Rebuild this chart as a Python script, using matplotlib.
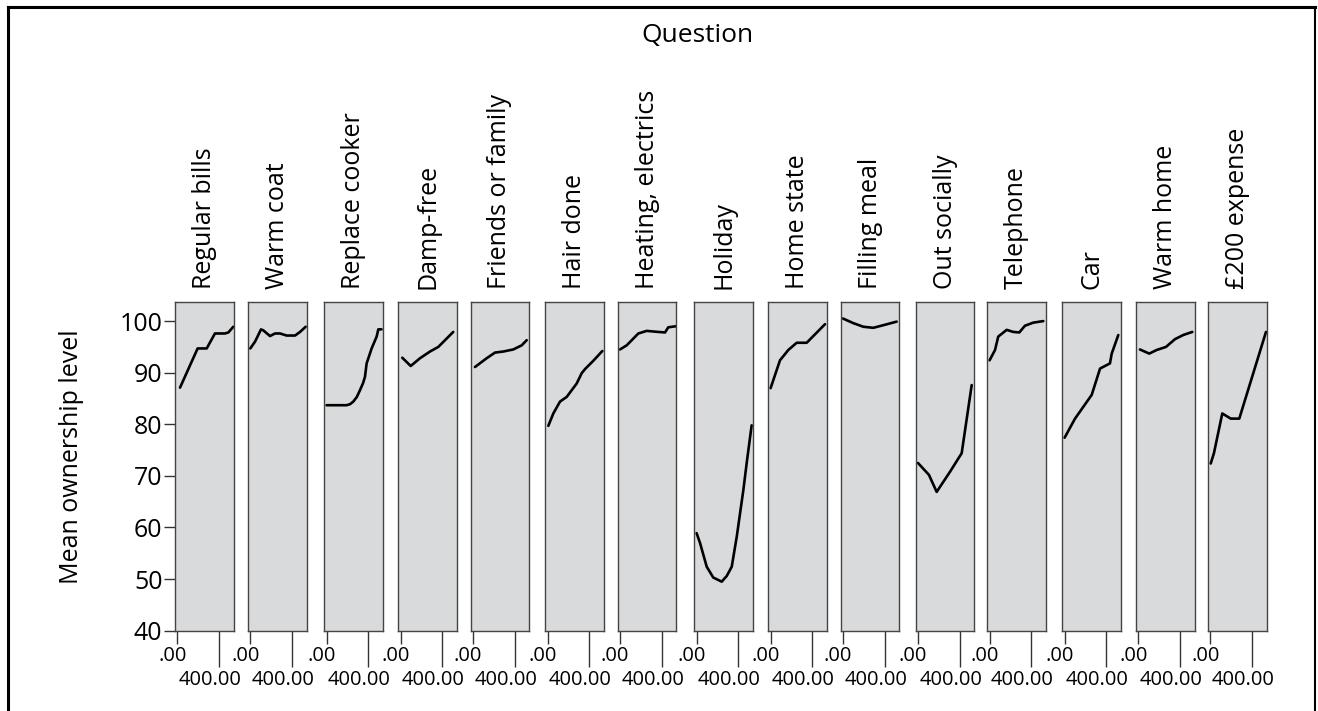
import matplotlib
matplotlib.use("Agg")
import matplotlib.pyplot as plt
import matplotlib.transforms as mtransforms
from matplotlib.lines import Line2D

plt.rcParams['font.family'] = ['Open Sans', 'DejaVu Sans']

# one panel per question
questions = ["Regular bills", "Warm coat", "Replace cooker", "Damp-free",
             "Friends or family", "Hair done", "Heating, electrics", "Holiday",
             "Home state", "Filling meal", "Out socially", "Telephone", "Car",
             "Warm home", "£200 expense"]

x_vals = [
    [26, 195, 282, 361, 457, 490, 537],
    [0, 45, 103, 125, 189, 237, 285, 349, 429, 477, 531],
    [0, 100, 192, 225, 256, 290, 320, 350, 368, 384, 432, 480, 496, 527],
    [16, 97, 186, 282, 362, 505],
    [19, 131, 211, 290, 386, 467, 515],
    [7, 55, 119, 183, 279, 327, 359, 438, 525],
    [0, 64, 176, 256, 367, 432, 463, 537],
    [0, 33, 97, 160, 241, 289, 337, 385, 448, 483, 528],
    [0, 90, 170, 250, 346, 522],
    [0, 99, 195, 291, 386, 515],
    [0, 105, 179, 307, 419, 515],
    [0, 52, 83, 164, 227, 285, 339, 419, 515],
    [0, 100, 260, 340, 435, 452, 515],
    [16, 105, 176, 266, 352, 431, 518],
    [4, 35, 115, 196, 278, 534],
]

y_vals = [
    [87.1, 94.7, 94.7, 97.6, 97.6, 97.8, 98.9],
    [94.7, 96.0, 98.4, 98.2, 97.1, 97.6, 97.6, 97.2, 97.2, 97.9, 98.9],
    [83.7, 83.7, 83.7, 83.9, 84.4, 85.3, 86.6, 88.0, 89.2, 91.8, 94.7, 97.0, 98.4, 98.4],
    [92.9, 91.3, 92.8, 94.1, 95.0, 97.9],
    [91.1, 92.8, 93.9, 94.1, 94.5, 95.3, 96.3],
    [79.7, 82.1, 84.4, 85.3, 87.9, 89.9, 90.7, 92.3, 94.2],
    [94.5, 95.3, 97.6, 98.1, 97.9, 97.8, 98.8, 99.0],
    [58.9, 57.0, 52.4, 50.3, 49.5, 50.6, 52.4, 58.2, 67.2, 72.9, 79.8],
    [87.0, 92.4, 94.4, 95.8, 95.8, 99.4],
    [100.5, 99.6, 98.9, 98.7, 99.2, 99.9],
    [72.5, 70.2, 66.9, 70.8, 74.4, 87.6],
    [92.4, 94.4, 97.0, 98.3, 97.9, 97.8, 99.1, 99.7, 100.0],
    [77.4, 81.1, 85.7, 90.8, 91.8, 93.7, 97.3],
    [94.5, 93.7, 94.4, 95.0, 96.5, 97.3, 97.9],
    [72.4, 74.4, 82.1, 81.1, 81.1, 97.9],
]

y_ticks = [40, 50, 60, 70, 80, 90, 100]

W, H = 1318, 711
fig = plt.figure(figsize=(W / 100, H / 100), dpi=100)

# panel layout in pixels
panel_left = [175, 248, 324.3, 398.3, 470.7, 545.3, 617.7, 694.3, 768.3,
              840.7, 915.7, 987.3, 1062.3, 1136, 1208]
panel_w = 58.6
panel_top, panel_bot = 302, 630.7

tick_col = '#333333'

for i, (name, xs, ys) in enumerate(zip(questions, x_vals, y_vals)):
    ax = fig.add_axes([panel_left[i] / W, 1 - panel_bot / H,
                       panel_w / W, (panel_bot - panel_top) / H])
    ax.set_facecolor('#d9dadc')
    for sp in ax.spines.values():
        sp.set_color('#444444')
        sp.set_linewidth(1.0)

    ax.plot(xs, ys, color='black', lw=1.9, solid_joinstyle='round',
            solid_capstyle='round')
    ax.set_xlim(-22, 540)
    ax.set_ylim(40, 103.7)

    # short tick at 0, long tick at 400 so the labels stagger
    ax.set_xticks([0])
    ax.set_xticklabels(['.00'])
    ax.set_xticks([400], minor=True)
    ax.set_xticklabels(['400.00'], minor=True)
    ax.tick_params(axis='x', which='major', length=9.4, width=1, pad=1.5,
                   labelsize=14.5, color=tick_col)
    ax.tick_params(axis='x', which='minor', length=26, width=1, pad=2.5,
                   labelsize=14.5, color=tick_col)
    for lab in ax.get_xticklabels():
        lab.set_transform(lab.get_transform() +
                          mtransforms.ScaledTranslation(-0.05, 0, fig.dpi_scale_trans))
    for lab in ax.get_xticklabels(minor=True):
        lab.set_transform(lab.get_transform() +
                          mtransforms.ScaledTranslation(-0.09, 0, fig.dpi_scale_trans))

    if i == 0:
        ax.set_yticks(y_ticks)
        ax.tick_params(axis='y', length=8, width=1, pad=1, labelsize=18,
                       color=tick_col)
    else:
        ax.set_yticks([])

    fig.text((panel_left[i] + panel_w / 2) / W, 1 - 289 / H, name,
             rotation=90, ha='center', va='bottom', fontsize=18)

fig.text(697 / W, 1 - 35 / H, 'Question', ha='center', va='center', fontsize=19)
fig.text(72 / W, 1 - 457 / H, 'Mean ownership level', rotation=90,
         ha='center', va='center', fontsize=18)

# outer frame (bottom edge is cut off in the original)
fig.add_artist(Line2D([8 / W, 8 / W], [0, 1 - 7 / H], color='black', lw=2.2,
                      transform=fig.transFigure))
fig.add_artist(Line2D([8 / W, 1315 / W], [1 - 7 / H, 1 - 7 / H], color='black',
                      lw=2.2, transform=fig.transFigure))
fig.add_artist(Line2D([1315 / W, 1315 / W], [0, 1 - 7 / H], color='black', lw=1.5,
                      transform=fig.transFigure))

fig.savefig('out.png', dpi=100)
